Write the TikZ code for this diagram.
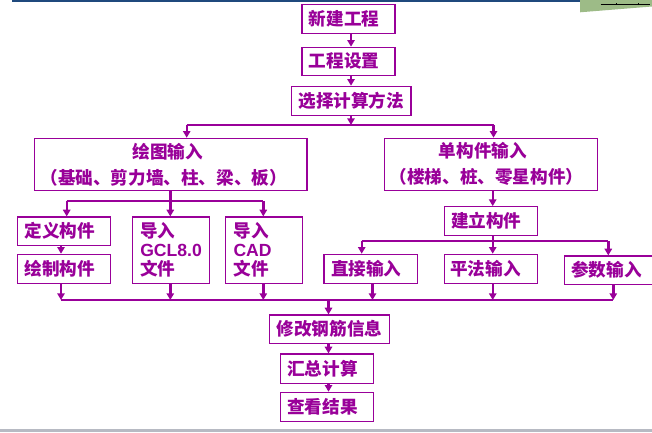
\documentclass[tikz,border=0pt]{standalone}
\usepackage{fontspec}
\setmainfont{Liberation Sans}
\newfontfamily\cjk{Noto Sans CJK SC}
\newfontfamily\lat{Liberation Sans}
\usetikzlibrary{arrows.meta}
\definecolor{pc}{RGB}{153,0,153}
\definecolor{topblue}{RGB}{31,73,125}
\definecolor{topgreen}{RGB}{157,187,135}
\definecolor{bargray}{RGB}{183,186,195}
\tikzset{
  box/.style={draw=pc, line width=0.9pt, text=pc, inner sep=0pt, align=center,
    font=\cjk\bfseries\fontsize{13.2}{19.5}\selectfont},
  tbox/.style={text width=45.75pt, align=left,
    font=\cjk\bfseries\fontsize{13.2}{14.25}\selectfont},
  ln/.style={draw=pc, line width=1.8pt},
  arr/.style={draw=pc, line width=1.8pt, -{Triangle[length=5pt,width=5.5pt]}},
}
\newcommand\mybox[7][]{\node[box,#1,minimum width={(#5-#3)*0.75pt},minimum height={(#6-#4)*0.75pt}] (#2) at ({(#3+#5)/2},{(#4+#6)/2}) {#7};}
\begin{document}
\begin{tikzpicture}[x=0.75pt,y=-0.75pt]
\useasboundingbox (0,0) rectangle (652,432);
\clip (0,0) rectangle (652,432);
\fill[white] (0,0) rectangle (652,432);
% decorations
\fill[topblue] (12,0) rectangle (580,1.6);
\fill[topgreen] (580,0) -- (652,0) -- (652,6.5) -- (580,12.3) -- cycle;
\draw[black, line width=1.1pt] (600.7,4.7) -- (650,4.7);
\draw[black, line width=0.6pt] (616,4.7) -- (616,2.5) (638.3,4.7) -- (638.3,2.5);
\fill[bargray] (0,429) rectangle (652,432);
% boxes
\mybox{new}{302}{4.5}{395}{33.5}{新建工程\hspace*{6.75pt}}
\mybox{set}{302}{47.3}{395}{75.3}{工程设置\hspace*{6.75pt}}
\mybox{method}{291.5}{86.3}{411}{115.3}{选择计算方法}
\mybox{drawin}{34.3}{138.3}{307}{190.3}{绘图输入\hspace*{4.5pt}\\（基础、剪力墙、柱、梁、板）\hspace*{10.5pt}}
\mybox{single}{384.3}{138.3}{597.3}{190.3}{单构件输入\hspace*{12pt}\\（楼梯、桩、零星构件）\hspace*{6.5pt}}
\mybox{def}{17.3}{217}{110.3}{245.3}{定义构件\hspace*{6pt}}
\mybox{drw}{17.3}{254.3}{110.3}{283.3}{绘制构件\hspace*{6pt}}
\mybox[tbox]{gcl}{132.3}{217}{209.3}{283.3}{导入\\{\lat GCL8.0}\\文件}
\mybox[tbox]{cad}{225.7}{217}{302.3}{283.3}{导入\\{\lat CAD}\\文件}
\mybox{build}{444.3}{206.7}{537.3}{235.3}{建立构件\hspace*{6.75pt}}
\mybox{direct}{324}{254.3}{417.3}{283.3}{直接输入\hspace*{6.6pt}}
\mybox{flat}{444.3}{254.3}{537.3}{283.3}{平法输入\hspace*{8pt}}
\mybox{param}{564.3}{256}{656}{284.3}{参数输入\hspace*{5.5pt}}
\mybox{modify}{269.4}{315}{389.6}{343.3}{修改钢筋信息}
\mybox{sum}{280.2}{354}{373.4}{383.3}{汇总计算\hspace*{6.6pt}}
\mybox{view}{280.2}{392.3}{373.4}{421.7}{查看结果\hspace*{6.6pt}}
% junction coordinates
\coordinate (xa) at (351,0);
\coordinate (j1) at (351,125);
\coordinate (xl) at (186.7,125);
\coordinate (xr) at (493.5,125);
\coordinate (j2) at (170.3,201);
\coordinate (j2l) at (66.7,201);
\coordinate (j2r) at (263.3,201);
\coordinate (j3) at (492.7,241);
\coordinate (j3l) at (361.7,241);
\coordinate (j3r) at (608.3,241);
\coordinate (b1) at (61,300);
\coordinate (b2) at (170.3,300);
\coordinate (b3) at (263.3,300);
\coordinate (b4) at (372.5,300);
\coordinate (b5) at (492.7,300);
\coordinate (b6) at (613.3,300);
\coordinate (m) at (328.5,300);
% connectors, top
\draw[arr] (new.south -| xa) -- (set.north -| xa);
\draw[arr] (set.south -| xa) -- (method.north -| xa);
\draw[arr] (method.south -| xa) -- (j1);
\draw[ln] (xl) -- (xr);
\draw[arr] (xl) -- (drawin.north -| xl);
\draw[arr] (xr) -- (single.north -| xr);
% left branch
\draw[ln] (drawin.south -| j2) -- (j2);
\draw[ln] (j2l) -- (j2r);
\draw[arr] (j2l) -- (def.north -| j2l);
\draw[arr] (j2) -- (gcl.north -| j2);
\draw[arr] (j2r) -- (cad.north -| j2r);
\draw[arr] (def.south -| b1) -- (drw.north -| b1);
% right branch
\draw[arr] (single.south -| j3) -- (build.north -| j3);
\draw[ln] (build.south -| j3) -- (j3);
\draw[ln] (j3l) -- (j3r);
\draw[arr] (j3l) -- (direct.north -| j3l);
\draw[arr] (j3) -- (flat.north -| j3);
\draw[arr] (j3r) -- (param.north -| j3r);
% merge
\draw[ln] (b1) -- (b6);
\draw[arr] (drw.south -| b1) -- (b1);
\draw[arr] (gcl.south -| b2) -- (b2);
\draw[arr] (cad.south -| b3) -- (b3);
\draw[arr] (direct.south -| b4) -- (b4);
\draw[arr] (flat.south -| b5) -- (b5);
\draw[arr] (param.south -| b6) -- (b6);
\draw[arr] (m) -- (modify.north -| m);
\draw[arr] (modify.south -| m) -- (sum.north -| m);
\draw[arr] (sum.south -| m) -- (view.north -| m);
\end{tikzpicture}
\end{document}
